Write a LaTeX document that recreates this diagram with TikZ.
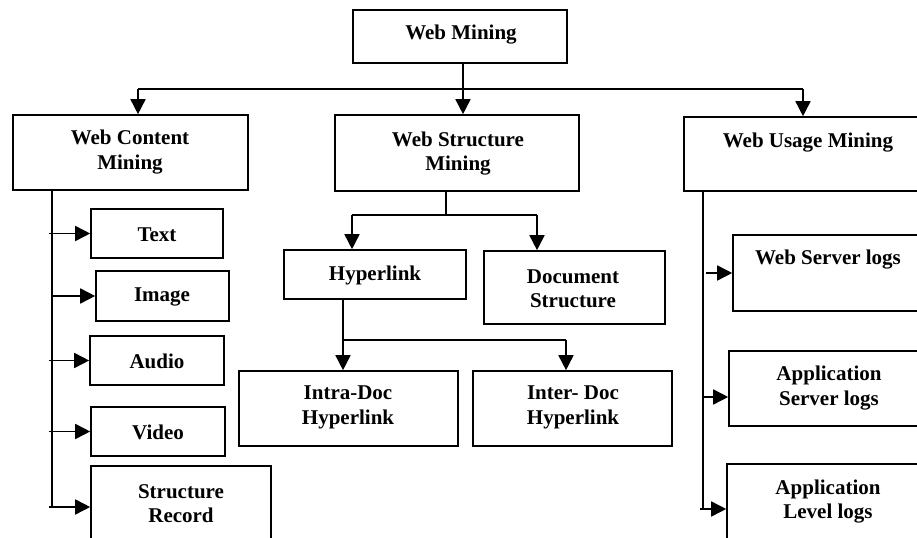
\documentclass[tikz,border=0pt]{standalone}
\usepackage{fontspec}
\setmainfont{Liberation Serif}
\usetikzlibrary{arrows.meta}
\begin{document}
\begin{tikzpicture}[x=1bp,y=-1bp,
  box/.style={draw, line width=1.6bp, rectangle, inner sep=0pt},
  txt/.style={align=center, inner sep=0pt, font=\fontsize{21bp}{24.5bp}\selectfont\bfseries},
  arr/.style={line width=1.6bp, -{Triangle[length=15bp,width=15bp]}},
  ln/.style={line width=1.6bp}]
\useasboundingbox (0,0) rectangle (917,538);
\clip (0,0) rectangle (917,538);

% top level
\node[box, minimum width=214bp, minimum height=53bp] (wm) at (460,36.5) {};
\node[txt] (wmt) at (461,35) {Web Mining};

% second level
\node[box, minimum width=235bp, minimum height=75bp] (wcm) at (130.5,152.5) {};
\node[txt] (wcmt) at (130,152) {Web Content\\Mining};
\node[box, minimum width=244bp, minimum height=76bp] (wsm) at (457,153) {};
\node[txt] (wsmt) at (458,153.5) {Web Structure\\Mining};
\node[box, minimum width=248bp, minimum height=74bp] (wum) at (808,154) {};
\node[txt] (wumt) at (808,143) {Web Usage Mining};

% content mining leaves
\node[box, minimum width=132bp, minimum height=49bp] (text) at (157,233.5) {};
\node[txt] (textt) at (157,234.5) {Text};
\node[box, minimum width=133bp, minimum height=50bp] (image) at (162.5,296) {};
\node[txt] (imaget) at (162,297) {Image};
\node[box, minimum width=134bp, minimum height=49bp] (audio) at (157,360.5) {};
\node[txt] (audiot) at (157,361) {Audio};
\node[box, minimum width=134bp, minimum height=49bp] (video) at (158,431.5) {};
\node[txt] (videot) at (158,432) {Video};
\node[box, minimum width=180bp, minimum height=94bp] (sr) at (181,513) {};
\node[txt] (srt) at (181,503.5) {Structure\\Record};

% structure mining subtree
\node[box, minimum width=182bp, minimum height=49bp] (hyp) at (375,274.5) {};
\node[txt] (hypt) at (375,275.5) {Hyperlink};
\node[box, minimum width=181bp, minimum height=73bp] (ds) at (574.5,287.5) {};
\node[txt] (dst) at (573,289) {Document\\Structure};
\node[box, minimum width=219bp, minimum height=75bp] (intra) at (348.5,408.5) {};
\node[txt] (intrat) at (348,407.5) {Intra-Doc\\Hyperlink};
\node[box, minimum width=199bp, minimum height=75bp] (inter) at (572.5,408.5) {};
\node[txt] (intert) at (573,407.5) {Inter- Doc\\Hyperlink};

% usage mining leaves
\node[box, minimum width=190bp, minimum height=76bp] (wsl) at (828,273) {};
\node[txt] (wslt) at (828,260) {Web Server logs};
\node[box, minimum width=200bp, minimum height=75bp] (asl) at (829,388.5) {};
\node[txt] (aslt) at (829,388) {Application\\Server logs};
\node[box, minimum width=203bp, minimum height=96bp] (all) at (828.5,512) {};
\node[txt] (allt) at (828,501.5) {Application\\Level logs};

% entry points on the leaf boxes
\coordinate (srin) at ([yshift=6bp]sr.west);
\coordinate (aslin) at ([yshift=-8.5bp]asl.west);
\coordinate (allin) at ([yshift=3bp]all.west);

% top-level connectors
\coordinate (wmout) at ([xshift=3bp]wm.south);
\coordinate (jtop) at ([yshift=-25bp]wmout);
\draw[arr] (wmout) -- (wmout |- wsm.north);
\draw[ln] ([xshift=7.5bp]wcm.north |- jtop) -- ([xshift=-5bp]wum.north |- jtop);
\draw[arr] ([xshift=7.5bp]wcm.north |- jtop) -- ([xshift=7.5bp]wcm.north);
\draw[arr] ([xshift=-5bp]wum.north |- jtop) -- ([xshift=-5bp]wum.north);

% content mining trunk
\coordinate (ctop) at ([xshift=-78.5bp]wcm.south);
\draw[ln] (ctop) -- (ctop |- srin);
\draw[arr] ([xshift=-3bp]ctop |- text.west) -- (text.west);
\draw[arr] (ctop |- image.west) -- (image.west);
\draw[arr] ([xshift=-3bp]ctop |- audio.west) -- (audio.west);
\draw[arr] ([xshift=-3bp]ctop |- video.west) -- (video.west);
\draw[arr] ([xshift=-3bp]ctop |- srin) -- (srin);

% structure mining branches
\coordinate (sj) at ([xshift=-11bp,yshift=-23bp]wsm.south);
\draw[ln] ([xshift=-11bp]wsm.south) -- (sj);
\draw[ln] ([xshift=-23bp]hyp.north |- sj) -- ([xshift=-37.5bp]ds.north |- sj);
\draw[arr] ([xshift=-23bp]hyp.north |- sj) -- ([xshift=-23bp]hyp.north);
\draw[arr] ([xshift=-37.5bp]ds.north |- sj) -- ([xshift=-37.5bp]ds.north);

\coordinate (hj) at ([xshift=-32bp,yshift=-40bp]hyp.south);
\draw[ln] ([xshift=-32bp]hyp.south) -- (hj);
\draw[ln] (hj) -- ([xshift=-6.5bp]inter.north |- hj);
\draw[arr] (hj) -- (hj |- intra.north);
\draw[arr] ([xshift=-6.5bp]inter.north |- hj) -- ([xshift=-6.5bp]inter.north);

% usage mining trunk
\coordinate (utop) at ([xshift=-105bp]wum.south);
\draw[ln] (utop) -- (utop |- allin);
\draw[arr] ([xshift=3bp]utop |- wsl.west) -- (wsl.west);
\draw[arr] (utop |- aslin) -- (aslin);
\draw[arr] ([xshift=-3bp]utop |- allin) -- (allin);
\end{tikzpicture}
\end{document}
